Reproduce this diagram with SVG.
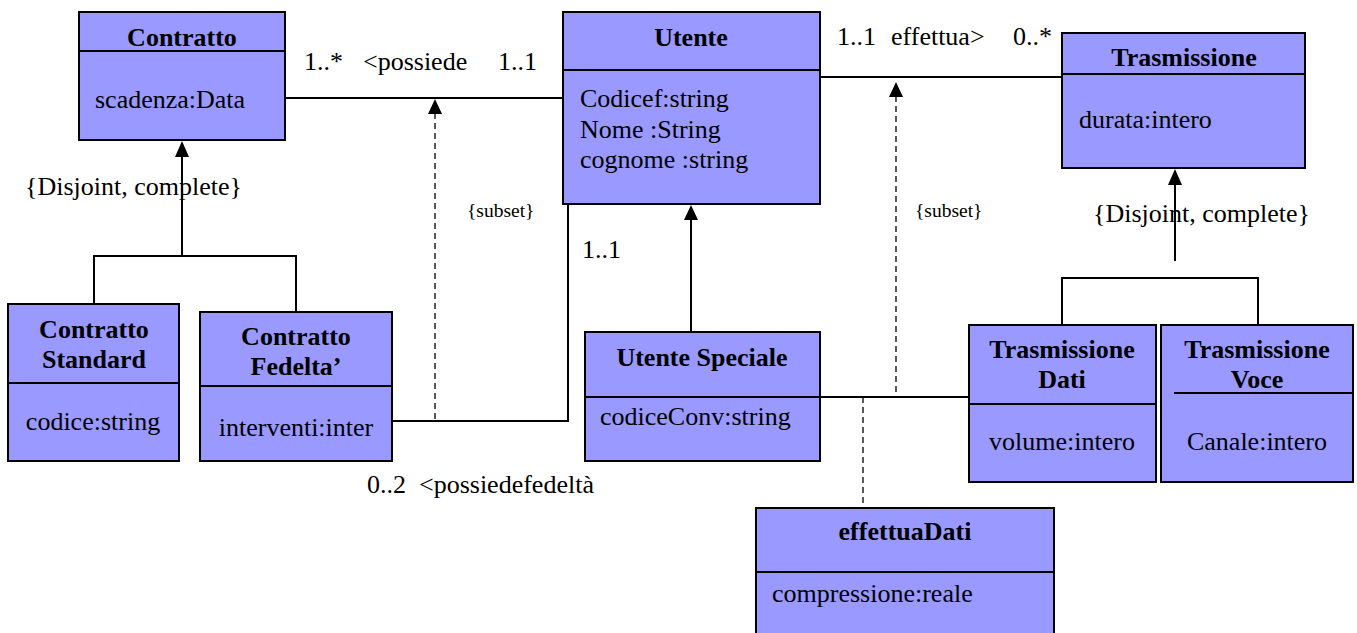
<svg xmlns="http://www.w3.org/2000/svg" width="1357" height="633" viewBox="0 0 1357 633" font-family="'Liberation Serif', serif" font-size="26">
  <style>
    .box { fill: #9999ff; stroke: #000; stroke-width: 2; }
    .sep { stroke: #000; stroke-width: 2; fill: none; }
    .line { stroke: #000; stroke-width: 2; fill: none; }
    .dash { stroke: #000; stroke-width: 1.3; fill: none; stroke-dasharray: 6 4; }
    .head { fill: #000; }
    .title { font-weight: bold; text-anchor: middle; }
    .mid { text-anchor: middle; }
    .small { font-size: 19.5px; }
  </style>
  <rect width="1357" height="633" fill="#fff"/>

  <!-- connectors -->
  <g id="connectors">
    <!-- Contratto - Utente association -->
    <line class="line" x1="285" y1="98" x2="563" y2="98"/>
    <text x="304" y="70">1..*</text>
    <text x="363" y="70">&lt;possiede</text>
    <text x="498" y="70">1..1</text>
    <!-- subset constraint -->
    <line class="dash" x1="435" y1="113" x2="435" y2="421"/>
    <polygon class="head" points="435,99 428,114 442,114"/>
    <text class="small" x="467" y="217">{subset}</text>
    <!-- Contratto Fedelta' - Utente association -->
    <path class="line" d="M392 421 H568 V204 H585"/>
    <text x="582" y="258">1..1</text>
    <text x="367" y="493" xml:space="preserve">0..2  &lt;possiedefedeltà</text>
    <!-- Contratto generalization -->
    <line class="line" x1="182" y1="155" x2="182" y2="256"/>
    <polygon class="head" points="182,141 175,157 189,157"/>
    <path class="line" d="M94 304 V256 H296 V312"/>
    <text x="25" y="195">{Disjoint, complete}</text>
    <!-- Utente generalization -->
    <line class="line" x1="691" y1="218" x2="691" y2="332"/>
    <polygon class="head" points="691,205 684,220 698,220"/>
    <!-- Utente - Trasmissione association -->
    <line class="line" x1="820" y1="77" x2="1062" y2="77"/>
    <text x="837" y="45">1..1</text>
    <text x="891" y="45">effettua&gt;</text>
    <text x="1013" y="45">0..*</text>
    <line class="dash" x1="896" y1="96" x2="896" y2="397"/>
    <polygon class="head" points="896,82 889,97 903,97"/>
    <text class="small" x="915" y="217">{subset}</text>
    <!-- Utente Speciale - Trasmissione Dati association -->
    <line class="line" x1="820" y1="397" x2="969" y2="397"/>
    <line class="dash" x1="863" y1="397" x2="863" y2="508"/>
    <!-- Trasmissione generalization -->
    <line class="line" x1="1175" y1="183" x2="1175" y2="261"/>
    <polygon class="head" points="1175,169 1168,185 1182,185"/>
    <text x="1093" y="222">{Disjoint, complete}</text>
    <path class="line" d="M1062 325 V278 H1258 V325"/>
  </g>

  <g id="contratto">
    <rect class="box" x="79" y="12" width="206" height="128"/>
    <line class="sep" x1="79" y1="51" x2="285" y2="51"/>
    <text class="title" x="182" y="46">Contratto</text>
    <text x="95" y="108">scadenza:Data</text>
  </g>

  <g id="utente">
    <rect class="box" x="563" y="12" width="257" height="192"/>
    <line class="sep" x1="563" y1="70" x2="820" y2="70"/>
    <text class="title" x="691" y="46">Utente</text>
    <text x="580" y="107">Codicef:string</text>
    <text x="580" y="138">Nome :String</text>
    <text x="580" y="168">cognome :string</text>
  </g>

  <g id="trasmissione">
    <rect class="box" x="1062" y="33" width="243" height="135"/>
    <line class="sep" x1="1062" y1="74" x2="1305" y2="74"/>
    <text class="title" x="1184" y="66">Trasmissione</text>
    <text x="1079" y="128">durata:intero</text>
  </g>

  <g id="contratto-standard">
    <rect class="box" x="8" y="304" width="171" height="157"/>
    <line class="sep" x1="8" y1="383" x2="179" y2="383"/>
    <text class="title" x="94" y="338">Contratto</text>
    <text class="title" x="94" y="368">Standard</text>
    <text class="mid" x="93" y="430">codice:string</text>
  </g>

  <g id="contratto-fedelta">
    <rect class="box" x="200" y="312" width="192" height="149"/>
    <line class="sep" x1="200" y1="386" x2="392" y2="386"/>
    <text class="title" x="296" y="345">Contratto</text>
    <text class="title" x="296" y="375">Fedelta’</text>
    <text class="mid" x="296" y="436">interventi:inter</text>
  </g>

  <g id="utente-speciale">
    <rect class="box" x="585" y="332" width="235" height="129"/>
    <line class="sep" x1="585" y1="397" x2="820" y2="397"/>
    <text class="title" x="702" y="366">Utente Speciale</text>
    <text x="600" y="425">codiceConv:string</text>
  </g>

  <g id="trasmissione-dati">
    <rect class="box" x="969" y="325" width="187" height="157"/>
    <line class="sep" x1="969" y1="404" x2="1156" y2="404"/>
    <text class="title" x="1062" y="358">Trasmissione</text>
    <text class="title" x="1062" y="388">Dati</text>
    <text class="mid" x="1062" y="450">volume:intero</text>
  </g>

  <g id="trasmissione-voce">
    <rect class="box" x="1161" y="325" width="192" height="157"/>
    <line class="sep" x1="1174" y1="393" x2="1353" y2="393"/>
    <text class="title" x="1257" y="358">Trasmissione</text>
    <text class="title" x="1257" y="388">Voce</text>
    <text class="mid" x="1257" y="450">Canale:intero</text>
  </g>

  <g id="effettua-dati">
    <rect class="box" x="756" y="508" width="298" height="140"/>
    <line class="sep" x1="756" y1="572" x2="1054" y2="572"/>
    <text class="title" x="905" y="540">effettuaDati</text>
    <text x="772" y="602">compressione:reale</text>
  </g>
</svg>
